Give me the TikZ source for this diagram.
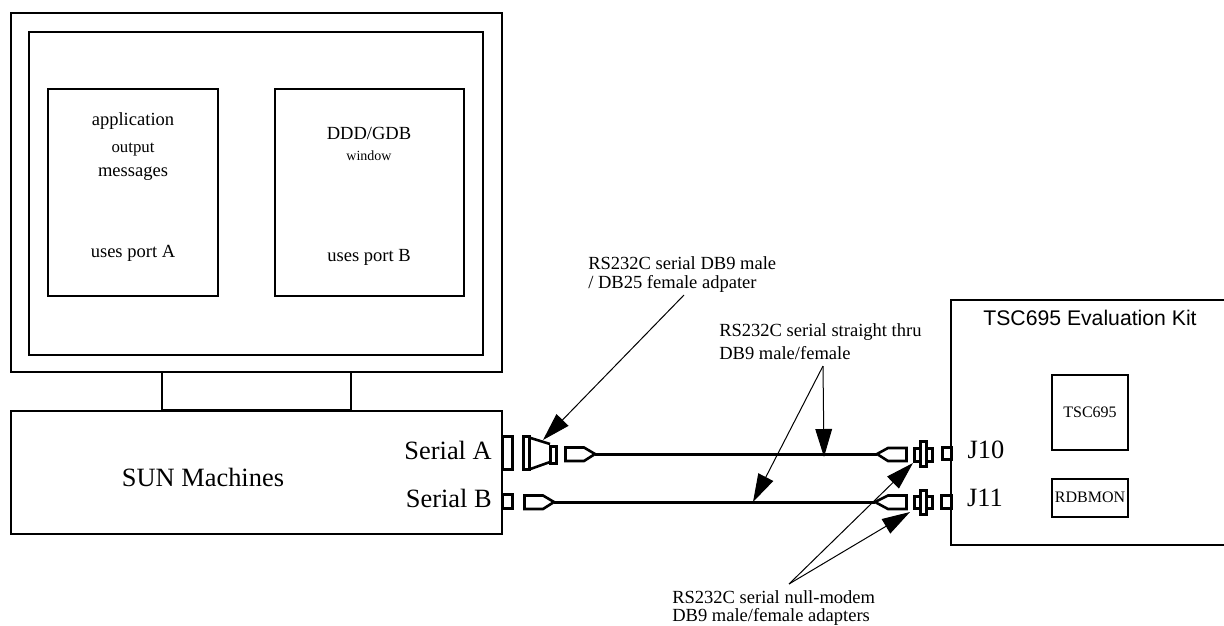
\documentclass[tikz,border=0pt]{standalone}
\usepackage{fontspec}
\setmainfont{Liberation Serif}
\newfontfamily\helv{Liberation Sans}
\usetikzlibrary{arrows.meta}
\newcommand\bx[6][]{\pgfmathsetmacro\bxw{(#5-#3)*0.75}\pgfmathsetmacro\bxh{(#6-#4)*0.75}%
  \node[boxs,#1,minimum width=\bxw pt,minimum height=\bxh pt] (#2) at ({(#3+#5)/2},{(#4+#6)/2}) {};}
\tikzset{
  boxs/.style={draw=black,line width=2pt*0.75,inner sep=0pt,outer sep=0pt,fill=white},
  conn/.style={boxs,line width=3pt*0.75},
  plug/.style={draw=black,line width=2.6pt*0.75,line join=miter},
  cable/.style={draw=black,line width=3pt*0.75},
  callout/.style={draw=black,line width=1pt*0.75,-{Triangle[length=21pt,width=12.5pt]}},
  big/.style={font=\fontsize{19.8}{22}\selectfont,inner sep=0pt},
  lab/.style={font=\fontsize{13.9}{15.8}\selectfont,inner sep=0pt,align=left,anchor=west},
  win/.style={font=\fontsize{13.9}{15}\selectfont,inner sep=0pt},
  winmd/.style={font=\fontsize{12.6}{14}\selectfont,inner sep=0pt},
  winsm/.style={font=\fontsize{12}{14}\selectfont,inner sep=0pt},
}
\begin{document}
\begin{tikzpicture}[x=0.75pt,y=-0.75pt]
\useasboundingbox (0,0) rectangle (1224,625);
\clip (0,0) rectangle (1224,625);
% monitor
\bx{monitor}{11}{13}{502}{372}
\bx{screen}{29}{32}{483}{355}
\bx{winA}{48}{89}{218}{296}
\bx{winB}{275}{89}{464}{296}
\bx{stand}{162}{372}{351}{410}
\bx{sun}{11}{411}{502}{534}
\node[win] (t1) at (133,121) {application};
\node[winmd] (t2) at (133,150) {output};
\node[win] (t3) at (133,174) {messages};
\node[win] (t4) at (133,253) {uses port A};
\node[win] (t5) at (369,133) {DDD/GDB};
\node[font=\fontsize{10.5}{12}\selectfont,inner sep=0pt] (t6) at (369,156) {window};
\node[win] (t7) at (369,257) {uses port B};
\node[big] (sunt) at (203,477) {SUN Machines};
\node[big,anchor=east] (sa) at (492,450) {Serial A};
\node[big,anchor=east] (sb) at (492,498) {Serial B};
% eval kit
\bx{kit}{951}{300}{1230}{545}
\bx{tsc}{1052}{375}{1128}{450}
\bx{rdb}{1052}{479}{1128}{517}
\node[font=\helv\fontsize{15.9}{18}\selectfont,inner sep=0pt] (kitt) at (1090,318) {TSC695 Evaluation Kit};
\node[winsm] (tsct) at (1090,412) {TSC695};
\node[winsm] (rdbt) at (1090,497) {RDBMON};
\node[big] (j10) at (986,450) {J10};
\node[big] (j11) at (985,498) {J11};
% left connectors
\bx[conn]{pA}{502}{436}{512}{469}
\bx[conn]{pB}{502}{494}{512}{508.5}
\bx[conn]{adF}{523}{436}{529}{469}
\bx[conn]{adM}{550}{446}{556}{463}
\draw[plug] (adF.east |- 0,437.5) -- (adM.west |- 0,444);
\draw[plug] (adF.east |- 0,469.5) -- (adM.west |- 0,462);
\draw[plug] (565.5,447.5) -- (584,447.5) -- (595,454) -- (584,461) -- (565.5,461) -- cycle;
\draw[plug] (524.5,495.5) -- (543,495.5) -- (554,502) -- (543,509) -- (524.5,509) -- cycle;
\coordinate (lA) at (595,454);
\coordinate (lB) at (554,502);
% right connectors
\draw[plug] (906.5,448) -- (888,448) -- (877,454) -- (888,461) -- (906.5,461) -- cycle;
\draw[plug] (906.5,495.5) -- (888,495.5) -- (875,502) -- (888,509) -- (906.5,509) -- cycle;
\coordinate (rA) at (877,454);
\coordinate (rB) at (875,502);
\draw[cable] (lA) -- (rA);
\draw[cable] (lB) -- (rB);
\bx[conn]{a1o}{914}{448}{932}{461}
\bx[conn]{a1i}{920}{441}{926}{466}
\bx[conn]{a2o}{914}{496}{932}{508}
\bx[conn]{a2i}{920}{490}{926}{514.5}
\bx[conn]{j10p}{942}{447}{951}{459.5}
\bx[conn]{j11p}{941}{495.5}{951}{508}
% labels
\node[lab] (l1) at (588,263) {RS232C serial DB9 male};
\node[lab] (l2) at (588,284) {/ DB25 female adpater};
\node[lab] (l3) at (719,332) {RS232C serial straight thru};
\node[lab] (l4) at (719,353) {DB9 male/female};
\node[lab] (l5) at (672,597) {RS232C serial null-modem};
\node[lab] (l6) at (672,616.5) {DB9 male/female adapters};
% callouts
\coordinate (c1s) at (684,295);
\coordinate (c1e) at (543,440);
\coordinate (c2s) at (823,366);
\coordinate (c2a) at (824,457);
\coordinate (c2b) at (753,502);
\coordinate (c3s) at (789,584);
\coordinate (c3a) at (913,463);
\coordinate (c3b) at (910,512);
\draw[callout] (c1s) -- (c1e);
\draw[callout] (c2s) -- (c2a);
\draw[callout] (c2s) -- (c2b);
\draw[callout] (c3s) -- (c3a);
\draw[callout] (c3s) -- (c3b);
\end{tikzpicture}
\end{document}
